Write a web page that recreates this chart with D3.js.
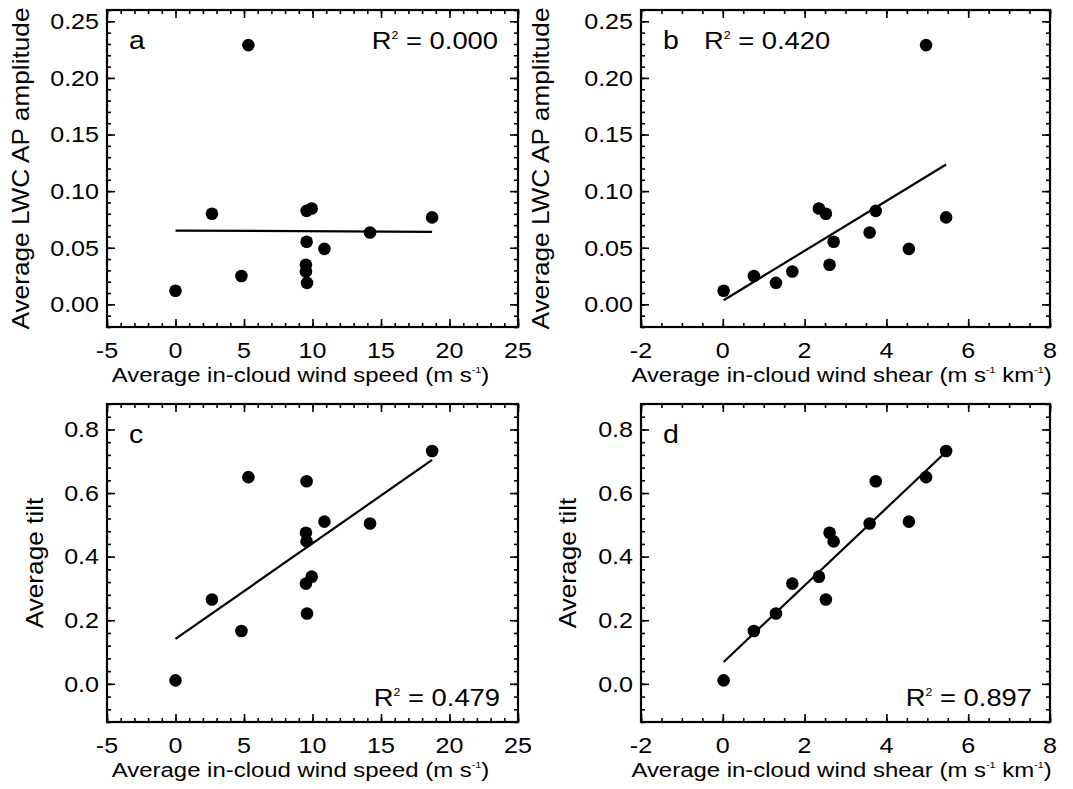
<!DOCTYPE html>
<html><head><meta charset="utf-8">
<script src="https://cdn.jsdelivr.net/npm/d3@7"></script>
<style>
body{margin:0;background:#fff}
svg{display:block}
text{font-family:"Liberation Sans",Arial,Helvetica,sans-serif;fill:#000}
</style>
</head><body>
<svg id="chart" width="1073" height="789"></svg>
<script>
// ---- data ----
const windSpeed    = [0.0, 4.81, 9.60, 9.52, 9.94, 2.66, 9.52, 9.57, 14.20, 9.57, 10.87, 5.32, 18.73];
const windShear    = [0.02, 0.76, 1.30, 1.70, 2.35, 2.52, 2.61, 2.71, 3.59, 3.74, 4.55, 4.97, 5.46];
const lwcAmplitude = [0.012, 0.025, 0.019, 0.029, 0.0847, 0.080, 0.035, 0.0553, 0.0635, 0.0826, 0.049, 0.229, 0.0768];
const avgTilt      = [0.011, 0.166, 0.221, 0.315, 0.337, 0.265, 0.475, 0.448, 0.504, 0.637, 0.510, 0.650, 0.732];

const speedTicks = [-5, 0, 5, 10, 15, 20, 25];
const shearTicks = [-2, 0, 2, 4, 6, 8];
const lwcTicks   = [0.00, 0.05, 0.10, 0.15, 0.20, 0.25];
const tiltTicks  = [0.0, 0.2, 0.4, 0.6, 0.8];

const panelLetters = ["a", "b", "c", "d"];
const r2Labels = ["0.000", "0.420", "0.479", "0.897"];

// ---- layout ----
const svg = d3.select("#chart");
const SX = 1.14;          // horizontal stretch of the reference font
const FS = 22;

function minorTicks(domain, step) {
  const n = Math.round((domain[1] - domain[0]) / step);
  return d3.range(n + 1).map(i => +(domain[0] + i * step).toFixed(6));
}

function addText(g, x, y, parts, opt) {
  opt = opt || {};
  const size = opt.size || FS;
  const t = g.append("text")
    .attr("transform", `translate(${x},${y}) rotate(${opt.rot || 0}) scale(${opt.sx || SX},1)`)
    .attr("text-anchor", opt.anchor || "start")
    .attr("font-size", size);
  let raised = false;
  parts.forEach(p => {
    const isSup = Array.isArray(p);
    const s = isSup ? p[0] : p;
    const ts = t.append("tspan").text(s);
    if (isSup && !raised) { ts.attr("font-size", size * 0.45).attr("dy", -size * 0.42); raised = true; }
    else if (!isSup && raised) { ts.attr("dy", size * 0.42); raised = false; }
    else if (isSup) ts.attr("font-size", size * 0.45);
  });
  return t;
}

function fit(xs, ys) {
  const mx = d3.mean(xs), my = d3.mean(ys);
  let sxy = 0, sxx = 0;
  xs.forEach((x, i) => { sxy += (x - mx) * (ys[i] - my); sxx += (x - mx) * (x - mx); });
  const b = sxy / sxx;
  return { a: my - b * mx, b };
}

const speedTitle = ["Average in-cloud wind speed (m s", ["-1"], ")"];
const shearTitle = ["Average in-cloud wind shear (m s", ["-1"], " km", ["-1"], ")"];
const lwcTitle = ["Average LWC AP amplitude"];
const tiltTitle = ["Average tilt"];

const panels = [
  { box: [107, 10, 518, 327], xs: windSpeed, ys: lwcAmplitude, xDom: [-5, 25], yDom: [-0.02, 0.26],
    xT: speedTicks, yT: lwcTicks, xMin: 1, yMin: 0.01, yFmt: d3.format(".2f"),
    xTitle: speedTitle, yTitle: lwcTitle, titleDx: -12, yTitleX: 29, r2Pos: "topright" },
  { box: [641, 10, 1050, 327], xs: windShear, ys: lwcAmplitude, xDom: [-2, 8], yDom: [-0.02, 0.26],
    xT: shearTicks, yT: lwcTicks, xMin: 0.5, yMin: 0.01, yFmt: d3.format(".2f"),
    xTitle: shearTitle, yTitle: lwcTitle, titleDx: -4, yTitleX: 549, r2Pos: "topleft" },
  { box: [107, 404, 518, 722], xs: windSpeed, ys: avgTilt, xDom: [-5, 25], yDom: [-0.12, 0.88],
    xT: speedTicks, yT: tiltTicks, xMin: 1, yMin: 0.04, yFmt: d3.format(".1f"),
    xTitle: speedTitle, yTitle: tiltTitle, titleDx: -12, yTitleX: 43, r2Pos: "bottomright" },
  { box: [641, 404, 1050, 722], xs: windShear, ys: avgTilt, xDom: [-2, 8], yDom: [-0.12, 0.88],
    xT: shearTicks, yT: tiltTicks, xMin: 0.5, yMin: 0.04, yFmt: d3.format(".1f"),
    xTitle: shearTitle, yTitle: tiltTitle, titleDx: -4, yTitleX: 576, r2Pos: "bottomright" }
];

panels.forEach((p, k) => {
  const [x0, y0, x1, y1] = p.box;
  const x = d3.scaleLinear().domain(p.xDom).range([x0, x1]);
  const y = d3.scaleLinear().domain(p.yDom).range([y1, y0]);
  const g = svg.append("g");

  // ticks on all four sides, pointing inward
  const axes = [
    [() => d3.axisBottom(x), `translate(0,${y1})`, p.xT, minorTicks(p.xDom, p.xMin)],
    [() => d3.axisTop(x), `translate(0,${y0})`, p.xT, minorTicks(p.xDom, p.xMin)],
    [() => d3.axisLeft(y), `translate(${x0},0)`, p.yT, minorTicks(p.yDom, p.yMin)],
    [() => d3.axisRight(y), `translate(${x1},0)`, p.yT, minorTicks(p.yDom, p.yMin)]
  ];
  axes.forEach(([mk, tr, major, minor]) => {
    [[minor, -4], [major, -8]].forEach(([vals, len]) => {
      const ga = g.append("g").attr("transform", tr)
        .call(mk().tickValues(vals).tickSize(len).tickFormat(""));
      ga.select(".domain").remove();
      ga.selectAll("text").remove();
      ga.selectAll("line").attr("stroke", "#000").attr("stroke-width", 1.6);
    });
  });

  // frame
  g.append("rect").attr("x", x0).attr("y", y0).attr("width", x1 - x0).attr("height", y1 - y0)
    .attr("fill", "none").attr("stroke", "#000").attr("stroke-width", 2.2);

  // tick labels
  p.xT.forEach(v => addText(g, x(v), y1 + 31, [String(v)], { anchor: "middle" }));
  p.yT.forEach(v => addText(g, x0 - 8, y(v) + 7.8, [p.yFmt(v)], { anchor: "end" }));

  // axis titles
  addText(g, (x0 + x1) / 2 + p.titleDx, y1 + 55, p.xTitle, { anchor: "middle", size: 21, sx: 1.14 });
  addText(g, p.yTitleX, (y0 + y1) / 2, p.yTitle, { anchor: "middle", rot: -90, size: 23 });

  // regression line
  const f = fit(p.xs, p.ys);
  const ext = d3.extent(p.xs);
  g.append("line")
    .attr("x1", x(ext[0])).attr("y1", y(f.a + f.b * ext[0]))
    .attr("x2", x(ext[1])).attr("y2", y(f.a + f.b * ext[1]))
    .attr("stroke", "#000").attr("stroke-width", 2.2);

  // points
  g.selectAll("circle.pt").data(p.xs.map((v, i) => [v, p.ys[i]])).join("circle")
    .attr("class", "pt").attr("cx", d => x(d[0])).attr("cy", d => y(d[1]))
    .attr("r", 6.3).attr("fill", "#000");

  // panel letter and R^2
  addText(g, x0 + 22, y0 + 39, [panelLetters[k]], { size: 25 });
  const r2 = ["R", ["2"], " = " + r2Labels[k]];
  if (p.r2Pos === "topright") addText(g, x1 - 20, y0 + 39, r2, { anchor: "end", size: 24 });
  else if (p.r2Pos === "topleft") addText(g, x0 + 63, y0 + 39, r2, { size: 24 });
  else addText(g, x1 - 18, y1 - 16, r2, { anchor: "end", size: 24 });
});
</script>
</body></html>
